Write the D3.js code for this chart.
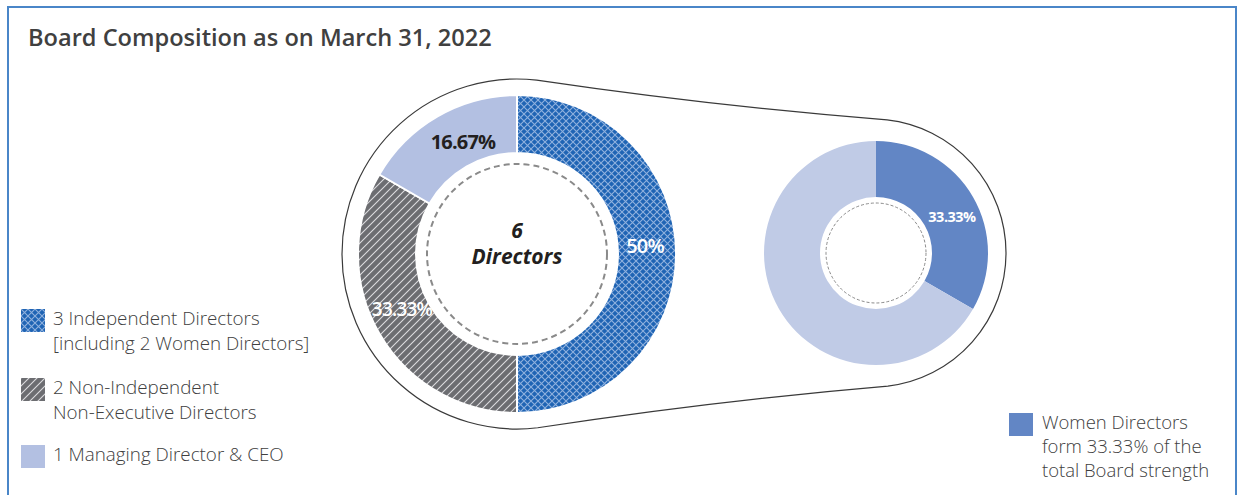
<!DOCTYPE html>
<html>
<head>
<meta charset="utf-8">
<script src="https://cdn.jsdelivr.net/npm/d3@7"></script>
<style>
  body { margin: 0; background: #fff; }
  svg text { font-family: "Open Sans", sans-serif; }
</style>
</head>
<body>
<div id="viz"></div>
<script>
// board data
var categories = ['3 Independent Directors|[including 2 Women Directors]',
                  '2 Non-Independent|Non-Executive Directors',
                  '1 Managing Director & CEO'];
var directors = [3, 2, 1];
var pctLabels = ['50%', '33.33%', '16.67%'];

var genderCats = ['Women Directors', 'Other Directors'];
var genderCounts = [2, 4];
var genderLabels = ['33.33%', ''];
var womenNote = ['Women Directors', 'form 33.33% of the', 'total Board strength'];

var width = 1238, height = 495;

var svg = d3.select('#viz').append('svg')
    .attr('width', width)
    .attr('height', height);

// patterns
var defs = svg.append('defs');
var hatch = defs.append('pattern')
    .attr('id', 'cross')
    .attr('patternUnits', 'userSpaceOnUse')
    .attr('width', 7).attr('height', 7);
hatch.append('rect').attr('width', 7).attr('height', 7).attr('fill', '#1f64b4');
hatch.append('path').attr('d', 'M0,0L7,7M7,0L0,7')
    .attr('stroke', '#8fb1de').attr('stroke-width', 1.1);

var stripe = defs.append('pattern')
    .attr('id', 'stripe')
    .attr('patternUnits', 'userSpaceOnUse')
    .attr('width', 8).attr('height', 8);
stripe.append('rect').attr('width', 8).attr('height', 8).attr('fill', '#6c6d71');
stripe.append('path').attr('d', 'M-2,2L2,-2M0,8L8,0M6,10L10,6')
    .attr('stroke', '#dcdcdf').attr('stroke-width', 1.1);

var fills = ['url(#cross)', 'url(#stripe)', '#b3c0e2'];
var genderFills = ['#6286c5', '#c0cbe6'];

// frame
svg.append('rect')
    .attr('x', 8).attr('y', 7)
    .attr('width', 1228).attr('height', 500)
    .attr('fill', 'none')
    .attr('stroke', '#4a86c8')
    .attr('stroke-width', 2);

svg.append('text')
    .attr('x', 28).attr('y', 46)
    .attr('fill', '#404040')
    .style('font-size', '23.6px')
    .style('font-weight', 600)
    .text('Board Composition as on March 31, 2022');

// outline around both donuts
var c1 = [517, 254], r1 = 175, c2 = [872, 253], r2 = 134;
var dx = c2[0] - c1[0], dy = c2[1] - c1[1], d = Math.sqrt(dx * dx + dy * dy);
var base = Math.atan2(dy, dx), off = Math.acos((r1 - r2) / d);
function pt(c, r, a) { return [c[0] + r * Math.cos(a), c[1] + r * Math.sin(a)]; }
var a1 = base - off, a2 = base + off;
var p1 = pt(c1, r1, a1), p2 = pt(c2, r2, a1), p3 = pt(c2, r2, a2), p4 = pt(c1, r1, a2);
var outline = d3.path();
outline.moveTo(p1[0], p1[1]);
outline.quadraticCurveTo((p1[0] + p2[0]) / 2, (p1[1] + p2[1]) / 2 + 6, p2[0], p2[1]);
outline.arc(c2[0], c2[1], r2, a1, a2, false);
outline.quadraticCurveTo((p3[0] + p4[0]) / 2, (p3[1] + p4[1]) / 2 - 6, p4[0], p4[1]);
outline.arc(c1[0], c1[1], r1, a2, a1 + 2 * Math.PI, false);
outline.closePath();
svg.append('path')
    .attr('d', outline.toString())
    .attr('fill', 'none')
    .attr('stroke', '#3a3a3a')
    .attr('stroke-width', 1.2);

var pie = d3.pie().sort(null).value(function(v) { return v; });

// main donut
var arc = d3.arc().innerRadius(101).outerRadius(159);
var main = svg.append('g').attr('transform', 'translate(' + c1[0] + ',' + c1[1] + ')');
main.selectAll('path').data(pie(directors))
  .enter().append('path')
    .attr('d', arc)
    .attr('fill', function(v, i) { return fills[i]; })
    .attr('stroke', '#fff')
    .attr('stroke-width', 2);
main.append('circle')
    .attr('r', 90)
    .attr('fill', 'none')
    .attr('stroke', '#8a8a8a')
    .attr('stroke-width', 2)
    .attr('stroke-dasharray', '6,4');

var labelPos = [[128, -8], [-115, 55], [-54, -112]];
main.selectAll('text.pct').data(pctLabels)
  .enter().append('text')
    .attr('class', 'pct')
    .attr('x', function(v, i) { return labelPos[i][0]; })
    .attr('y', function(v, i) { return labelPos[i][1]; })
    .attr('dy', '0.35em')
    .attr('text-anchor', 'middle')
    .attr('fill', function(v, i) { return i === 2 ? '#231f20' : '#fff'; })
    .style('font-size', function(v, i) { return i === 1 ? '19px' : '20px'; })
    .style('font-weight', function(v, i) { return i === 2 ? 700 : 600; })
    .style('letter-spacing', '-0.8px')
    .text(function(v) { return v; });

main.append('text')
    .attr('y', -16)
    .attr('text-anchor', 'middle')
    .attr('fill', '#231f20')
    .style('font-size', '21px')
    .style('font-weight', 700)
    .style('font-style', 'italic')
    .text(d3.sum(directors));
main.append('text')
    .attr('y', 10)
    .attr('text-anchor', 'middle')
    .attr('fill', '#231f20')
    .style('font-size', '21px')
    .style('font-weight', 700)
    .style('font-style', 'italic')
    .text('Directors');

// women donut
var arc2 = d3.arc().innerRadius(56).outerRadius(112);
var small = svg.append('g').attr('transform', 'translate(876,253)');
small.selectAll('path').data(pie(genderCounts))
  .enter().append('path')
    .attr('d', arc2)
    .attr('fill', function(v, i) { return genderFills[i]; });
small.append('circle')
    .attr('r', 50)
    .attr('fill', 'none')
    .attr('stroke', '#8a8a8a')
    .attr('stroke-width', 1)
    .attr('stroke-dasharray', '3,2');
small.append('text')
    .attr('x', 76).attr('y', -36)
    .attr('dy', '0.35em')
    .attr('text-anchor', 'middle')
    .attr('fill', '#fff')
    .style('font-size', '14.5px')
    .style('font-weight', 700)
    .style('letter-spacing', '-0.5px')
    .text(genderLabels[0]);

// left legend
var legY = [309, 378, 445];
var leg = svg.selectAll('g.leg').data(categories)
  .enter().append('g')
    .attr('class', 'leg')
    .attr('transform', function(v, i) { return 'translate(21,' + legY[i] + ')'; });
leg.append('rect')
    .attr('width', 24).attr('height', 23)
    .attr('fill', function(v, i) { return fills[i]; });
leg.each(function(v) {
  var lines = v.split('|');
  var t = d3.select(this).append('text')
      .attr('x', 32).attr('y', 16)
      .attr('fill', '#404040')
      .style('font-size', '18.8px')
      .style('font-weight', 300);
  lines.forEach(function(l, j) {
    t.append('tspan').attr('x', 32).attr('dy', j === 0 ? 0 : 25).text(l);
  });
});

// right legend
var rl = svg.append('g').attr('transform', 'translate(1009,413)');
rl.append('rect').attr('width', 24).attr('height', 23).attr('fill', genderFills[0]);
var rt = rl.append('text')
    .attr('x', 33).attr('y', 16)
    .attr('fill', '#404040')
    .style('font-size', '18.5px')
    .style('font-weight', 300);
womenNote.forEach(function(l, j) {
  rt.append('tspan').attr('x', 33).attr('dy', j === 0 ? 0 : 24).text(l);
});
</script>
</body>
</html>
